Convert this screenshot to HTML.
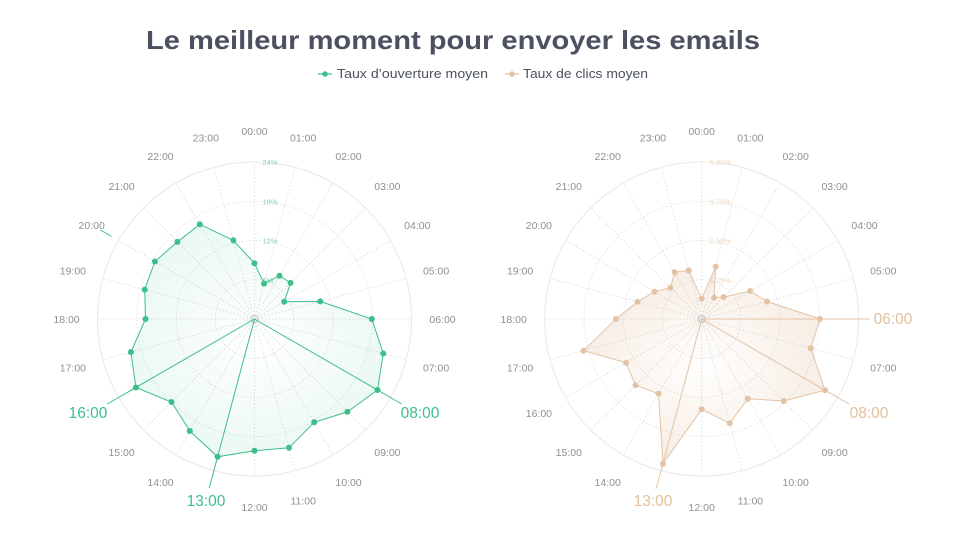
<!DOCTYPE html>
<html><head><meta charset="utf-8"><style>
html,body{margin:0;padding:0;background:#fff;width:967px;height:544px;overflow:hidden}
svg{display:block;font-family:"Liberation Sans",sans-serif}
</style></head><body>
<svg id="s" width="967" height="544" viewBox="0 0 967 544" xmlns="http://www.w3.org/2000/svg">
<defs>
<radialGradient id="gg" cx="0.5" cy="0.5" r="0.5" gradientUnits="objectBoundingBox">
<stop offset="0" stop-color="#3dbf8a" stop-opacity="0"/><stop offset="1" stop-color="#3dbf8a" stop-opacity="0.10"/></radialGradient>
<radialGradient id="gb" cx="0.5" cy="0.5" r="0.5">
<stop offset="0" stop-color="#d9a878" stop-opacity="0.01"/><stop offset="1" stop-color="#d9a878" stop-opacity="0.2"/></radialGradient>
</defs>
<text x="453" y="49" text-anchor="middle" font-size="26" font-weight="bold" fill="#4b5160" textLength="614" lengthAdjust="spacingAndGlyphs">Le meilleur moment pour envoyer les emails</text>
<line x1="318" y1="74" x2="332" y2="74" stroke="#3dbf8a" stroke-width="1.2"/><circle cx="325" cy="74" r="2.8" fill="#3dbf8a"/>
<text x="337" y="78" font-size="12.5" fill="#4b5160" textLength="151" lengthAdjust="spacingAndGlyphs">Taux d’ouverture moyen</text>
<line x1="505" y1="74" x2="519" y2="74" stroke="#e3c3a5" stroke-width="1.2"/><circle cx="512" cy="74" r="2.8" fill="#e3c3a5"/>
<text x="523" y="78" font-size="12.5" fill="#4b5160" textLength="125" lengthAdjust="spacingAndGlyphs">Taux de clics moyen</text>
<g id="c"></g>
</svg>
<script>
var NS="http://www.w3.org/2000/svg",g=document.getElementById("c");
function el(t,a,txt){var e=document.createElementNS(NS,t);for(var k in a)e.setAttribute(k,a[k]);if(txt)e.textContent=txt;g.appendChild(e);return e;}
function pt(cx,cy,i,r){var a=i*15*Math.PI/180;return [cx+r*Math.sin(a),cy-r*Math.cos(a)];}
function chart(cx,cy,data,col,lab,fill,rings,hl,bigs,extra){
 var R=157;
 el("circle",{cx:cx,cy:cy,r:R,fill:"none",stroke:"#e8e8e8","stroke-width":1});
 for(var k=1;k<4;k++)el("circle",{cx:cx,cy:cy,r:R*k/4,fill:"none",stroke:"#dcdcdc","stroke-dasharray":"1.5,2","stroke-width":0.8});
 el("circle",{cx:cx,cy:cy,r:3,fill:"none",stroke:"#ccc"});
 for(var i=0;i<24;i++){var p=pt(cx,cy,i,R);el("line",{x1:cx,y1:cy,x2:p[0].toFixed(1),y2:p[1].toFixed(1),stroke:"#d8d8d8","stroke-dasharray":"1.5,2","stroke-width":0.8});
  if(bigs.indexOf(i)<0){var q=pt(cx,cy,i,188);el("text",{x:q[0].toFixed(1),y:(q[1]+4).toFixed(1),"text-anchor":"middle","font-size":"10.5",fill:"#909090"},(i<10?"0":"")+i+":00");}}
 for(var k=1;k<=4;k++)el("text",{x:cx+8,y:cy-R*k/4+3,"font-size":"7.5",fill:lab,"text-anchor":"start"},rings[k-1]);
 var ps=data.map(function(v,i){return pt(cx,cy,i,v/3);});
 el("polygon",{points:ps.map(function(p){return p[0].toFixed(1)+","+p[1].toFixed(1)}).join(" "),fill:fill,stroke:col,"stroke-width":1});
 ps.forEach(function(p){el("circle",{cx:p[0].toFixed(1),cy:p[1].toFixed(1),r:3,fill:col});});
 hl.forEach(function(h){var p=pt(cx,cy,h[0],h[1]);el("line",{x1:cx,y1:cy,x2:p[0],y2:p[1],stroke:col,"stroke-width":1});
  el("text",{x:h[2],y:h[3],"text-anchor":"middle","font-size":"15.5",fill:lab2(col)},(h[0]<10?"0":"")+h[0]+":00");});
 if(extra){var a=pt(cx,cy,extra,165),b=pt(cx,cy,extra,178);el("line",{x1:a[0],y1:a[1],x2:b[0],y2:b[1],stroke:col,"stroke-width":1});}
}
function lab2(c){return c=="#3dbf8a"?"#3dbf8a":"#e3bf9c";}
chart(254.5,319,[167,110,150,153,103,204,352,400,426,394,358,400,395,428,388,352,411,384,327,341,345,327,328,244],
 "#3dbf8a","#7fd8b0","url(#gg)",["6%","12%","18%","24%"],[[8,170,420,418],[13,175,206,506],[16,170,88,418]],[8,13,16],20);
var cl=[61,162,74,93,168,203,355,339,427,348,276,324,271,449,259,281,262,367,257,199,164,133,162,151];
chart(701.7,319,cl,"#e3c3a5","#efd6bd","url(#gb)",["1.25%","2.50%","3.75%","5.00%"],[[6,168,893,324],[8,170,869,418],[13,175,653,506]],[6,8,13]);
</script>
</body></html>
